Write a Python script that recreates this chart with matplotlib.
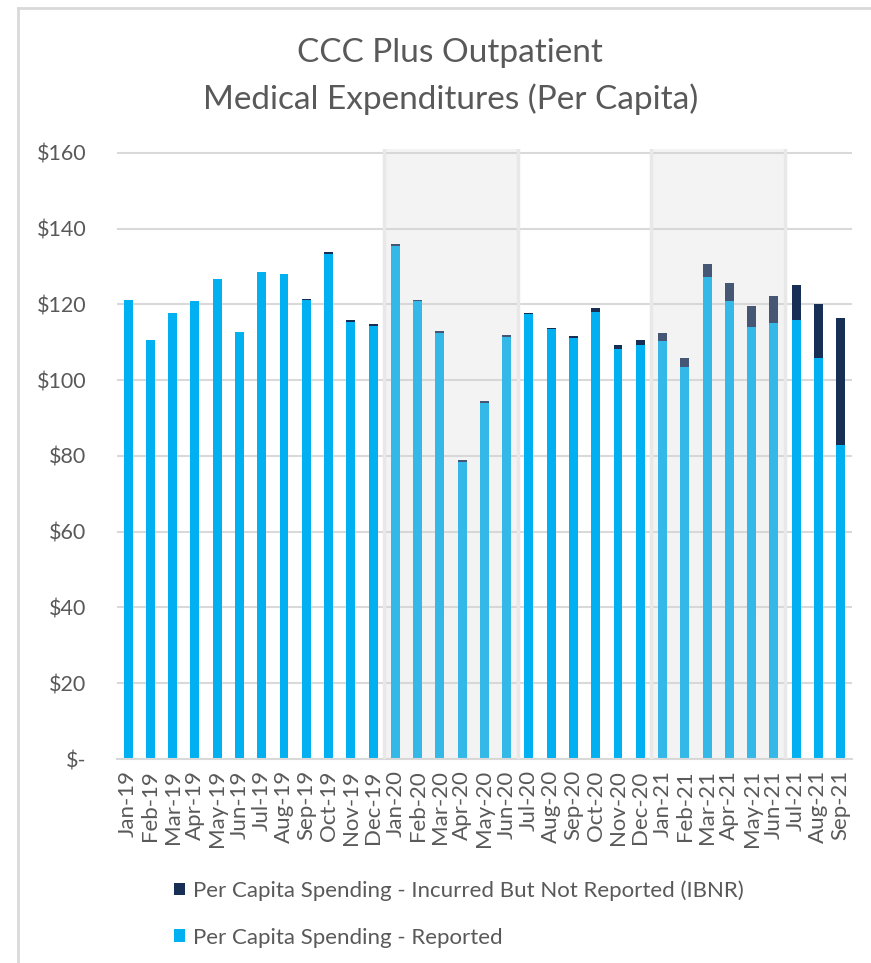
import matplotlib
matplotlib.use("Agg")
import matplotlib.pyplot as plt
from matplotlib.lines import Line2D
from matplotlib.patches import Patch

plt.rcParams['font.family'] = ['Lato', 'DejaVu Sans']

## data
months = ['Jan-19', 'Feb-19', 'Mar-19', 'Apr-19', 'May-19', 'Jun-19', 'Jul-19', 'Aug-19',
          'Sep-19', 'Oct-19', 'Nov-19', 'Dec-19', 'Jan-20', 'Feb-20', 'Mar-20', 'Apr-20',
          'May-20', 'Jun-20', 'Jul-20', 'Aug-20', 'Sep-20', 'Oct-20', 'Nov-20', 'Dec-20',
          'Jan-21', 'Feb-21', 'Mar-21', 'Apr-21', 'May-21', 'Jun-21', 'Jul-21', 'Aug-21',
          'Sep-21']
reported = [121.1, 110.7, 117.8, 120.9, 126.6, 112.8, 128.6, 128.0,
            121.1, 133.3, 115.3, 114.4, 135.4, 120.8, 112.4, 78.5,
            94.0, 111.4, 117.4, 113.4, 111.0, 118.1, 108.3, 109.3,
            110.4, 103.5, 127.3, 120.8, 114.1, 115.2, 115.8, 105.9,
            82.9]
ibnr = [0, 0, 0, 0, 0, 0, 0, 0,
        0.4, 0.4, 0.5, 0.5, 0.4, 0.4, 0.6, 0.4,
        0.4, 0.6, 0.4, 0.3, 0.7, 1.0, 1.0, 1.4,
        2.1, 2.4, 3.4, 4.8, 5.5, 7.1, 9.4, 14.3,
        33.5]
shaded_spans = [('Jan-20', 'Jun-20'), ('Jan-21', 'Jun-21')]
yticks = [0, 20, 40, 60, 80, 100, 120, 140, 160]
ytick_labels = ['$-', '$20', '$40', '$60', '$80', '$100', '$120', '$140', '$160']

blue = '#00b0f0'
navy = '#172e55'
text_grey = '#595959'
grid_grey = '#d9d9d9'

fig = plt.figure(figsize=(8.71, 9.63), dpi=100)
ax = fig.add_axes([0.1343, 0.2118, 0.8437, 0.6335])

x = list(range(len(months)))
ax.bar(x, reported, width=0.4, color=blue, zorder=2)
ax.bar(x, ibnr, width=0.4, bottom=reported, color=navy, zorder=2)

## grey overlay over the first half of 2020 and 2021
for start, end in shaded_spans:
    lo = months.index(start) - 0.5
    hi = months.index(end) + 0.5
    ax.axvspan(lo, hi, facecolor='#d2d2d2', edgecolor='none', alpha=0.25, zorder=3)
    for edge in (lo, hi):
        ax.axvline(edge, color='#e8e8e8', linewidth=2.5, zorder=3)

ax.set_xlim(-0.5, len(months) - 0.5)
ax.set_ylim(0, 161)
ax.set_yticks(yticks)
ax.set_yticklabels(ytick_labels)
ax.set_xticks(x)
ax.set_xticklabels(months, rotation=90)
ax.tick_params(axis='both', length=0, colors=text_grey)
ax.tick_params(axis='y', pad=22, labelsize=15.5)
ax.tick_params(axis='x', pad=8, labelsize=16)
ax.yaxis.grid(True, color=grid_grey, linewidth=1.5, zorder=0)
ax.set_axisbelow(True)
for side in ['top', 'right', 'left']:
    ax.spines[side].set_visible(False)
ax.spines['bottom'].set_color(grid_grey)
ax.spines['bottom'].set_linewidth(1.5)

fig.text(0.517, 0.945, 'CCC Plus Outpatient', ha='center', va='center',
         fontsize=24, color=text_grey)
fig.text(0.517, 0.897, 'Medical Expenditures (Per Capita)', ha='center', va='center',
         fontsize=24, color=text_grey)

handles = [Patch(facecolor=navy), Patch(facecolor=blue)]
labels = ['Per Capita Spending - Incurred But Not Reported (IBNR)',
          'Per Capita Spending - Reported']
fig.legend(handles, labels, loc='upper left', bbox_to_anchor=(0.19, 0.095),
           frameon=False, fontsize=16, labelcolor=text_grey,
           handlelength=0.5, handleheight=0.5, handletextpad=0.35,
           labelspacing=1.2, borderaxespad=0)

## thin border on left and top of the screenshot
fig.add_artist(Line2D([0.0207, 0.0207], [0, 0.9915], color=grid_grey, linewidth=2))
fig.add_artist(Line2D([0.0207, 1], [0.9915, 0.9915], color=grid_grey, linewidth=2))

fig.savefig('out.png', dpi=100)
